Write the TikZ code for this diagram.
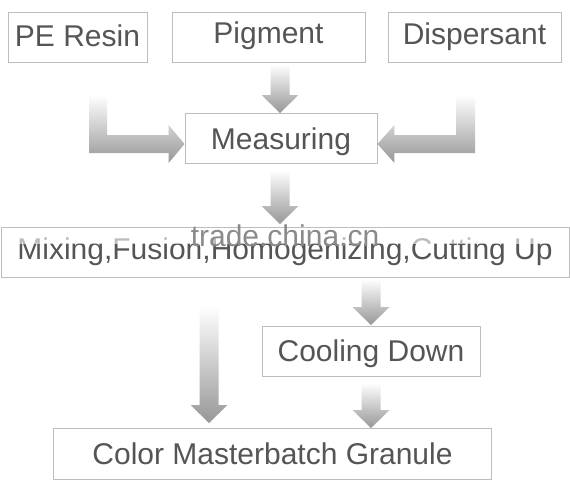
\documentclass[tikz,border=0pt]{standalone}
\usepackage{fontspec}
\setmainfont{Liberation Sans}
\usetikzlibrary{calc}
\definecolor{boxgray}{HTML}{BDBDBD}
\definecolor{txtgray}{HTML}{555555}
\definecolor{arrgray}{HTML}{979797}
\definecolor{wmgray}{HTML}{8A8A8A}
\newcommand{\blockdown}[2]{%
  \shade[top color=white,bottom color=arrgray] let \p1=(#1), \p2=(#2) in
    (\x2-9.5pt,\y1) -- (\x2+9.5pt,\y1) -- (\x2+9.5pt,\y2+18pt) -- (\x2+18.5pt,\y2+18pt)
    -- (\x2,\y2) -- (\x2-18.5pt,\y2+18pt) -- (\x2-9.5pt,\y2+18pt) -- cycle;}
\begin{document}
\begin{tikzpicture}[x=1pt,y=1pt,
  box/.style={draw=boxgray,line width=0.9pt,text=txtgray,inner sep=0pt,
    font=\fontsize{30}{36}\selectfont,minimum height=50pt,text height=21.5pt}]
\useasboundingbox (0,0) rectangle (570,-495);
\fill[white] (0,0) rectangle (570,-495);
% boxes
\node[box,minimum width=139pt,text depth=1.5pt] (pe) at (77.5,-37) {PE Resin};
\node[box,minimum width=193pt,text depth=7.5pt] (pig) at (268.5,-37) {Pigment};
\node[box,minimum width=173pt,text depth=5.5pt] (disp) at (474.5,-37) {Dispersant};
\node[box,minimum width=192pt,text depth=-8.5pt] (meas) at (281,-138.5) {Measuring};
\node[box,minimum width=568pt,text depth=7.5pt] (mix) at (285,-252) {Mixing,Fusion,Homogenizing,Cutting Up};
\node[box,minimum width=218pt,text depth=-0.5pt] (cool) at (371,-351) {Cooling Down};
\node[box,minimum width=438pt,minimum height=51pt,text depth=-5.5pt] (gran) at (272.5,-453.5) {Color Masterbatch Granule};
% blurred upper band of the mixing text
\fill[white,opacity=0.6] (3,-229) rectangle (567,-244);
% straight arrows
\coordinate (a1s) at (280,-64);
\coordinate (a1t) at (280,-113);
\blockdown{a1s}{a1t}
\coordinate (a2s) at (280,-170);
\coordinate (a2t) at (280,-224);
\blockdown{a2s}{a2t}
\coordinate (a3s) at (371,-279);
\coordinate (a3t) at (371,-325);
\blockdown{a3s}{a3t}
\coordinate (a4s) at (371,-383);
\coordinate (a4t) at (371,-428);
\blockdown{a4s}{a4t}
\coordinate (a5s) at (209,-306);
\coordinate (a5t) at (209,-423);
\blockdown{a5s}{a5t}
% L-shaped arrows
\coordinate (lt) at ($(meas.west)+(0,-5.5)$);
\shade[top color=white,bottom color=arrgray] let \p1=(lt) in
  (89,-95) -- (107,-95) -- (107,\y1+9pt) -- (\x1-16pt,\y1+9pt) -- (\x1-16pt,\y1+19pt)
  -- (\x1,\y1) -- (\x1-16pt,\y1-19pt) -- (\x1-16pt,\y1-9pt) -- (89,\y1-9pt) -- cycle;
\coordinate (rt) at ($(meas.east)+(0,-5.5)$);
\shade[top color=white,bottom color=arrgray] let \p1=(rt) in
  (475,-95) -- (456,-95) -- (456,\y1+9pt) -- (\x1+17pt,\y1+9pt) -- (\x1+17pt,\y1+19pt)
  -- (\x1,\y1) -- (\x1+17pt,\y1-19pt) -- (\x1+17pt,\y1-9pt) -- (475,\y1-9pt) -- cycle;
% watermark
\node[text=wmgray,font=\fontsize{30}{36}\selectfont,inner sep=0pt] (wm) at (285,-236) {trade.china.cn};
\end{tikzpicture}
\end{document}
